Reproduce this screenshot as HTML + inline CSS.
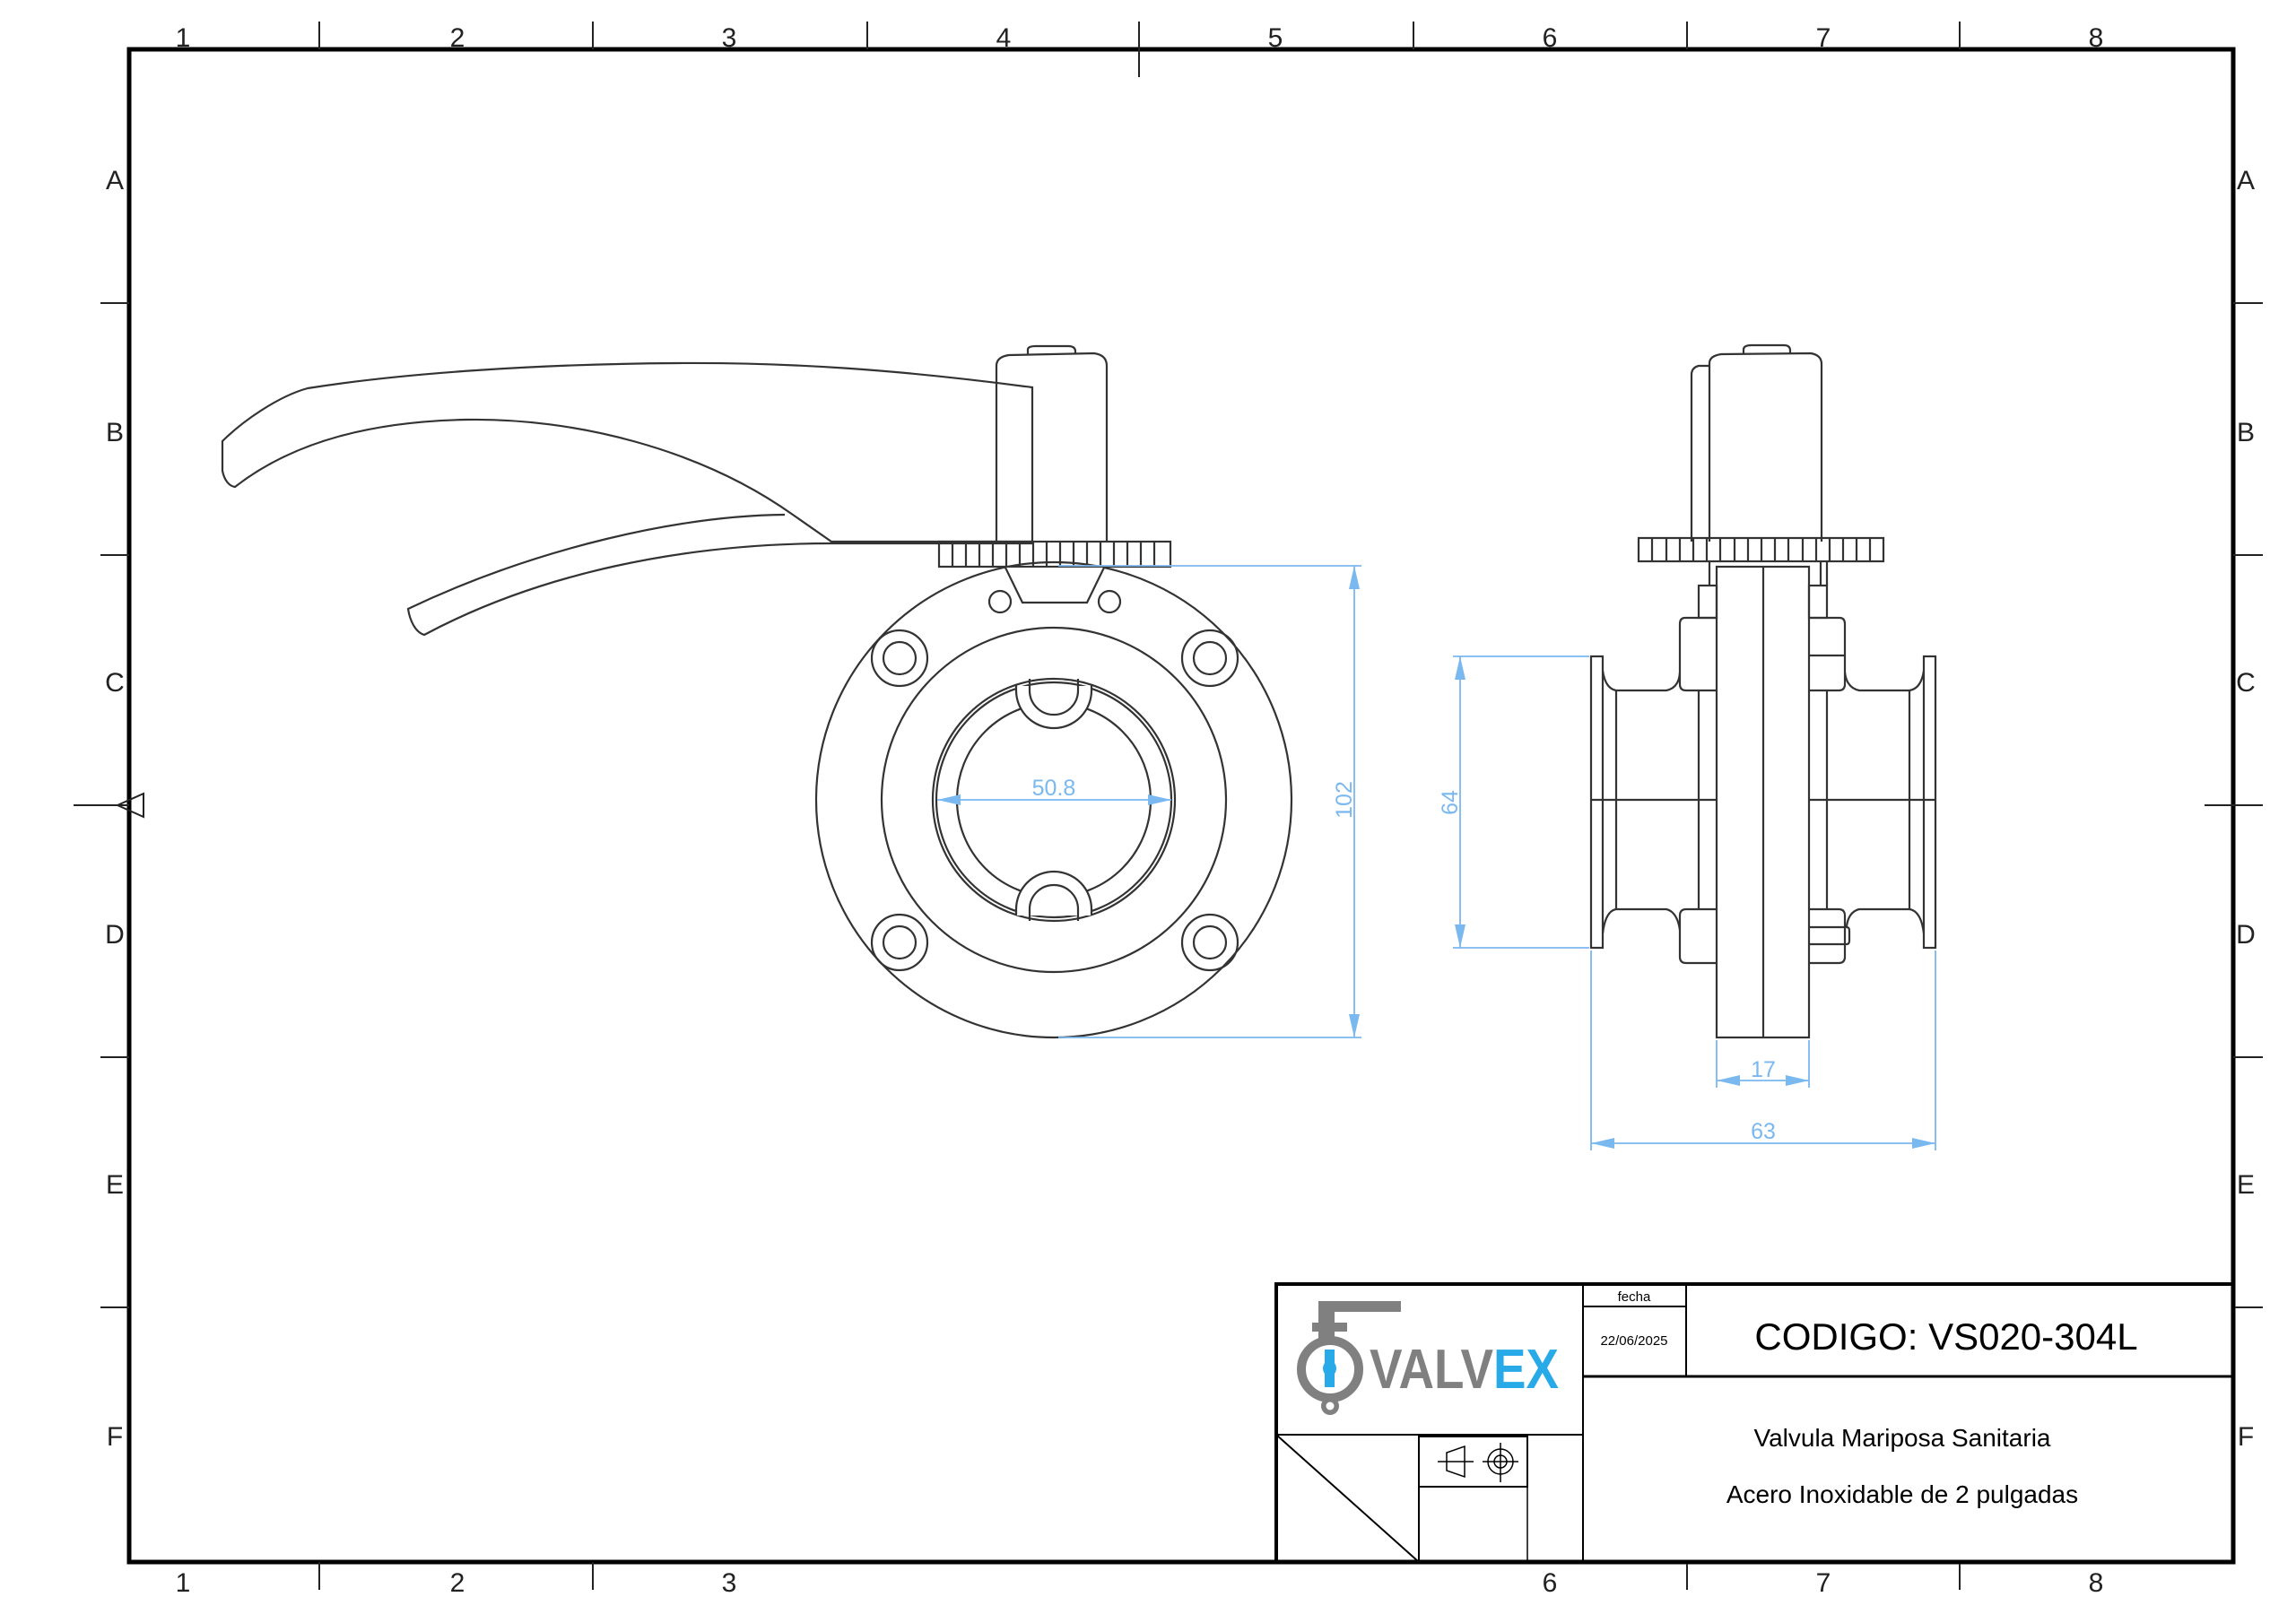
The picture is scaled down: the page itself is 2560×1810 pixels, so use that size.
<!DOCTYPE html>
<html><head><meta charset="utf-8"><style>
html,body{margin:0;padding:0;background:#fff}
svg{display:block}
text{font-family:"Liberation Sans",sans-serif}
</style></head><body>
<svg width="2560" height="1810" viewBox="0 0 2560 1810" xmlns="http://www.w3.org/2000/svg">
<rect width="2560" height="1810" fill="#fff"/>
<!-- frame -->
<rect x="144" y="55" width="2346" height="1687" fill="none" stroke="#000" stroke-width="5"/>
<g stroke="#222" stroke-width="2">
<line x1="356" y1="24" x2="356" y2="55"/><line x1="661" y1="24" x2="661" y2="55"/><line x1="967" y1="24" x2="967" y2="55"/>
<line x1="1270" y1="24" x2="1270" y2="86"/><line x1="1576" y1="24" x2="1576" y2="55"/><line x1="1881" y1="24" x2="1881" y2="55"/><line x1="2185" y1="24" x2="2185" y2="55"/>
<line x1="356" y1="1742" x2="356" y2="1773"/><line x1="661" y1="1742" x2="661" y2="1773"/>
<line x1="1881" y1="1742" x2="1881" y2="1773"/><line x1="2185" y1="1742" x2="2185" y2="1773"/>
<line x1="112" y1="338" x2="144" y2="338"/><line x1="112" y1="619" x2="144" y2="619"/><line x1="82" y1="898" x2="144" y2="898"/>
<line x1="112" y1="1179" x2="144" y2="1179"/><line x1="112" y1="1458" x2="144" y2="1458"/>
<line x1="2490" y1="338" x2="2523" y2="338"/><line x1="2490" y1="619" x2="2523" y2="619"/><line x1="2458" y1="898" x2="2523" y2="898"/>
<line x1="2490" y1="1179" x2="2523" y2="1179"/><line x1="2490" y1="1458" x2="2523" y2="1458"/>
<polygon points="131,898 160,885 160,911" fill="none"/>
</g>
<g font-size="30" fill="#222" text-anchor="middle">
<text x="204" y="52">1</text><text x="510" y="52">2</text><text x="813" y="52">3</text><text x="1119" y="52">4</text>
<text x="1422" y="52">5</text><text x="1728" y="52">6</text><text x="2033" y="52">7</text><text x="2337" y="52">8</text>
<text x="204" y="1775">1</text><text x="510" y="1775">2</text><text x="813" y="1775">3</text>
<text x="1728" y="1775">6</text><text x="2033" y="1775">7</text><text x="2337" y="1775">8</text>
<text x="128" y="211">A</text><text x="128" y="492">B</text><text x="128" y="771">C</text><text x="128" y="1052">D</text><text x="128" y="1331">E</text><text x="128" y="1612">F</text>
<text x="2504" y="211">A</text><text x="2504" y="492">B</text><text x="2504" y="771">C</text><text x="2504" y="1052">D</text><text x="2504" y="1331">E</text><text x="2504" y="1612">F</text>
</g>

<!-- LEFT VIEW -->
<g fill="none" stroke="#333" stroke-width="2.2">
<path d="M1151,604 L1151,432 C1000,412 880,404 754,405 C600,406 450,416 343,433 C310,442 270,470 248,492 L248,525 C250,535 255,542 262,543 C330,490 420,470 520,468 C640,466 780,500 884,574 L927,604 Z"/>
<path d="M875,574 C760,575 600,610 455,679 C457,692 463,705 473,708 C600,640 760,606 927,606"/>
<line x1="927" y1="606" x2="1151" y2="606"/>
<path d="M1111,604 L1111,408 Q1111,398 1125,396 L1220,394 Q1234,396 1234,408 L1234,604"/>
<path d="M1146,396 L1146,390 Q1146,386 1155,386 L1191,386 Q1199,386 1199,392 L1199,395"/>
<rect x="1047" y="604" width="258" height="28"/>
<path d="M1062,604V632M1077,604V632M1092,604V632M1107,604V632M1122,604V632M1137,604V632M1152,604V632M1167,604V632M1182,604V632M1197,604V632M1212,604V632M1227,604V632M1242,604V632M1257,604V632M1272,604V632M1287,604V632"/>
<circle cx="1175" cy="892" r="265"/>
<circle cx="1175" cy="892" r="192"/>
<circle cx="1175" cy="892" r="135"/>
<circle cx="1175" cy="892" r="131"/>
<circle cx="1175" cy="892" r="108"/>
<path d="M1121,633 L1140,672 L1212,672 L1231,633" fill="#fff"/>
<circle cx="1115" cy="671" r="12"/><circle cx="1237" cy="671" r="12"/>
<circle cx="1003" cy="734" r="31"/><circle cx="1003" cy="734" r="18"/>
<circle cx="1349" cy="734" r="31"/><circle cx="1349" cy="734" r="18"/>
<circle cx="1003" cy="1051" r="31"/><circle cx="1003" cy="1051" r="18"/>
<circle cx="1349" cy="1051" r="31"/><circle cx="1349" cy="1051" r="18"/>
<path d="M1133,768 L1133,770 A42,42 0 0 0 1217,770 L1217,765 L1133,765 Z" fill="#fff" stroke="none"/>
<path d="M1133,763 L1133,770 A42,42 0 0 0 1217,770 L1217,763"/>
<path d="M1148,757 L1148,770 A27,27 0 0 0 1202,770 L1202,757"/>
<path d="M1133,1014 A42,42 0 0 1 1217,1014 L1217,1021 L1133,1021 Z" fill="#fff" stroke="none"/>
<path d="M1133,1021 L1133,1014 A42,42 0 0 1 1217,1014 L1217,1021"/>
<path d="M1148,1027 L1148,1014 A27,27 0 0 1 1202,1014 L1202,1027"/>
</g>
<g stroke="#7ab8f0" stroke-width="1.8" fill="#7ab8f0">
<line x1="1180" y1="631" x2="1518" y2="631"/><line x1="1180" y1="1157" x2="1518" y2="1157"/>
<line x1="1510" y1="631" x2="1510" y2="1157"/>
<polygon points="1510,631 1504,657 1516,657" stroke="none"/><polygon points="1510,1157 1504,1131 1516,1131" stroke="none"/>
<line x1="1045" y1="892" x2="1306" y2="892"/>
<polygon points="1045,892 1071,886 1071,898" stroke="none"/><polygon points="1306,892 1280,886 1280,898" stroke="none"/>
</g>
<g fill="#7ab8f0" font-size="25" text-anchor="middle">
<text x="1175" y="887">50.8</text>
<text transform="translate(1507,892) rotate(-90)">102</text>
</g>

<!-- RIGHT VIEW -->
<g fill="none" stroke="#333" stroke-width="2.2">
<path d="M1886,604 L1886,418 Q1886,410 1894,408 L1906,408"/>
<path d="M1906,604 L1906,405 Q1906,397 1919,395 L2019,394 Q2031,396 2031,406 L2031,604"/>
<path d="M1944,395 L1944,390 Q1944,385 1953,385 L1989,385 Q1996,385 1996,391 L1996,394"/>
<rect x="1827" y="600" width="273" height="26"/>
<path d="M1842,600V626M1858,600V626M1873,600V626M1888,600V626M1903,600V626M1918,600V626M1934,600V626M1949,600V626M1964,600V626M1979,600V626M1994,600V626M2010,600V626M2025,600V626M2040,600V626M2055,600V626M2070,600V626M2085,600V626"/>
<rect x="1914" y="632" width="103" height="525"/>
<line x1="1966" y1="632" x2="1966" y2="1157"/>
<path d="M1906,626 V653 M2030,626 V653 M2037,626 V653"/>
<rect x="1894" y="653" width="20" height="36"/>
<rect x="2017" y="653" width="20" height="36"/>
<path d="M1914,689 L1879,689 Q1873,689 1873,696 L1873,763 Q1873,770 1880,770 L1914,770"/>
<path d="M2017,689 L2051,689 Q2057,689 2057,696 L2057,763 Q2057,770 2050,770 L2017,770 M2017,731 L2057,731"/>
<path d="M1914,1014 L1880,1014 Q1873,1014 1873,1021 L1873,1067 Q1873,1074 1880,1074 L1914,1074"/>
<path d="M2017,1014 L2050,1014 Q2057,1014 2057,1021 L2057,1067 Q2057,1074 2050,1074 L2017,1074 M2017,1034 L2059,1034 Q2062,1034 2062,1038 L2062,1049 Q2062,1053 2059,1053 L2017,1053"/>
<line x1="1894" y1="770" x2="1894" y2="1014"/><line x1="2037" y1="770" x2="2037" y2="1014"/>
<rect x="1774" y="732" width="13" height="325"/>
<rect x="2145" y="732" width="13" height="325"/>
<path d="M1787,748 Q1790,768 1802,770 L1858,770 Q1872,767 1873,750"/>
<path d="M1787,1041 Q1790,1016 1802,1014 L1858,1014 Q1870,1017 1873,1037"/>
<path d="M2145,748 Q2142,768 2129,770 L2073,770 Q2059,767 2057,750"/>
<path d="M2145,1041 Q2142,1016 2129,1014 L2073,1014 Q2061,1017 2059,1033"/>
<line x1="1802" y1="770" x2="1802" y2="1014"/><line x1="2129" y1="770" x2="2129" y2="1014"/>
<line x1="1774" y1="892" x2="1914" y2="892"/><line x1="2017" y1="892" x2="2158" y2="892"/>
</g>
<g stroke="#7ab8f0" stroke-width="1.8" fill="#7ab8f0">
<line x1="1620" y1="732" x2="1772" y2="732"/><line x1="1620" y1="1057" x2="1772" y2="1057"/>
<line x1="1628" y1="732" x2="1628" y2="1057"/>
<polygon points="1628,732 1622,758 1634,758" stroke="none"/><polygon points="1628,1057 1622,1031 1634,1031" stroke="none"/>
<line x1="1914" y1="1160" x2="1914" y2="1213"/><line x1="2017" y1="1160" x2="2017" y2="1213"/>
<line x1="1914" y1="1205" x2="2017" y2="1205"/>
<polygon points="1914,1205 1940,1199 1940,1211" stroke="none"/><polygon points="2017,1205 1991,1199 1991,1211" stroke="none"/>
<line x1="1774" y1="1060" x2="1774" y2="1283"/><line x1="2158" y1="1060" x2="2158" y2="1283"/>
<line x1="1774" y1="1275" x2="2158" y2="1275"/>
<polygon points="1774,1275 1800,1269 1800,1281" stroke="none"/><polygon points="2158,1275 2132,1269 2132,1281" stroke="none"/>
</g>
<g fill="#7ab8f0" font-size="25" text-anchor="middle">
<text transform="translate(1625,895) rotate(-90)">64</text>
<text x="1966" y="1201">17</text>
<text x="1966" y="1270">63</text>
</g>

<!-- TITLE BLOCK -->
<g fill="none" stroke="#000">
<rect x="1423" y="1432" width="1067" height="310" stroke-width="4"/>
<line x1="1765" y1="1432" x2="1765" y2="1742" stroke-width="2"/>
<line x1="1765" y1="1535" x2="2490" y2="1535" stroke-width="3"/>
<line x1="1880" y1="1432" x2="1880" y2="1535" stroke-width="2"/>
<line x1="1765" y1="1457" x2="1880" y2="1457" stroke-width="2"/>
<line x1="1423" y1="1600" x2="1765" y2="1600" stroke-width="2"/>
<line x1="1423" y1="1600" x2="1582" y2="1742" stroke-width="2"/>
<rect x="1582" y="1602" width="121" height="56" stroke-width="2"/>
<line x1="1582" y1="1658" x2="1582" y2="1742" stroke-width="2"/>
<line x1="1703" y1="1658" x2="1703" y2="1742" stroke-width="1.5"/>
<g stroke-width="1.5">
<path d="M1613,1620 L1613,1640 L1633,1647 L1633,1613 Z"/>
<line x1="1603" y1="1630" x2="1643" y2="1630"/>
<circle cx="1673" cy="1630" r="14"/><circle cx="1673" cy="1630" r="7"/>
<line x1="1673" y1="1609" x2="1673" y2="1653"/><line x1="1653" y1="1630" x2="1693" y2="1630"/>
</g>
</g>
<g fill="#808080">
<rect x="1470" y="1451" width="92" height="12"/>
<rect x="1470" y="1451" width="18" height="44"/>
<rect x="1463" y="1475" width="39" height="10"/>
<circle cx="1483" cy="1568" r="10"/>
</g>
<circle cx="1483" cy="1527" r="32" fill="none" stroke="#808080" stroke-width="10"/>
<circle cx="1483" cy="1568" r="4.5" fill="#fff"/>
<path d="M1477,1505 H1488 V1520 Q1492,1526 1488,1532 V1547 H1477 V1532 Q1473,1526 1477,1520 Z" fill="#29aae8"/>
<text x="1527" y="1548" font-size="62" font-weight="bold" fill="#808080" textLength="138" lengthAdjust="spacingAndGlyphs">VALV</text>
<text x="1665" y="1548" font-size="62" font-weight="bold" fill="#29aae8" textLength="73" lengthAdjust="spacingAndGlyphs">EX</text>
<g fill="#000" text-anchor="middle">
<text x="1822" y="1451" font-size="15">fecha</text>
<text x="1822" y="1500" font-size="15">22/06/2025</text>
<text x="2170" y="1505" font-size="42">CODIGO: VS020-304L</text>
<text x="2121" y="1613" font-size="28">Valvula Mariposa Sanitaria</text>
<text x="2121" y="1676" font-size="28">Acero Inoxidable de 2 pulgadas</text>
</g>
</svg>
</body></html>
